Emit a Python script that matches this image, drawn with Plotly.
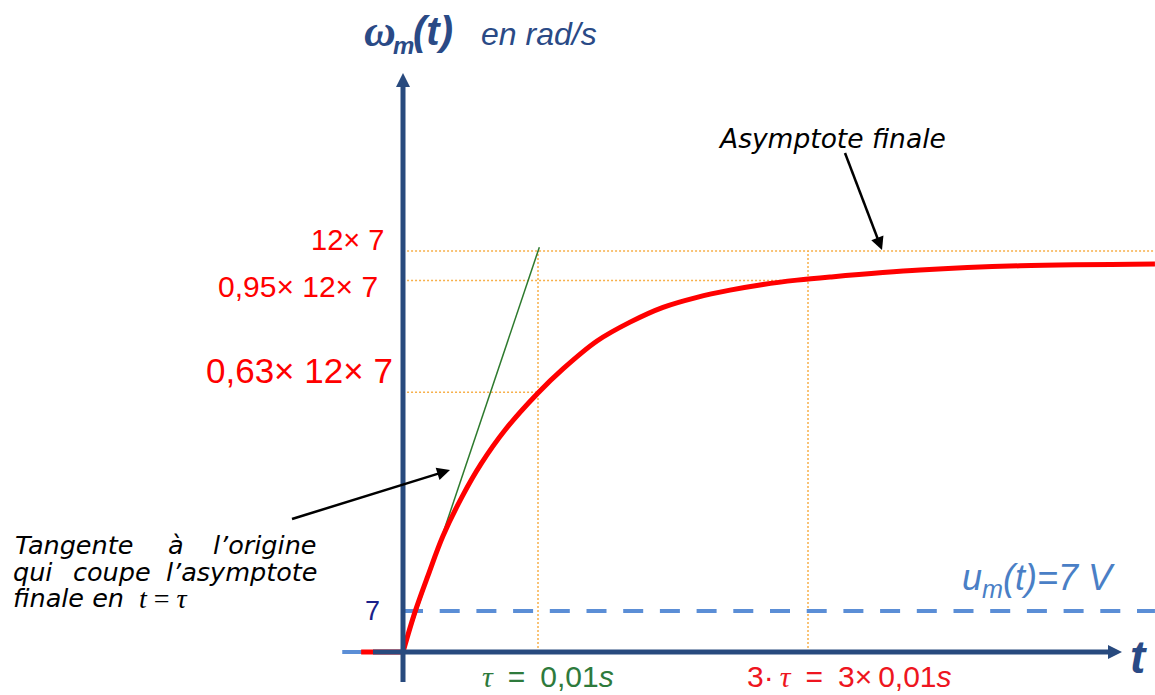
import math
import plotly.graph_objects as go

# ---------------- data ----------------
tau = 0.01                       # s
three_tau = 0.03                 # s
t_end = 0.0557                   # right edge of the drawing (s)

# step response omega_m(t) (rad/s)
t_curve = [0.0, 0.00089, 0.00185, 0.00296, 0.00437, 0.00578, 0.00756, 0.0100, 0.01185,
           0.01437, 0.01682, 0.01926, 0.02178, 0.02422, 0.02667, 0.02919, 0.03163,
           0.03830, 0.04570, 0.05570]
w_curve = [0.0, 8.4, 16.0, 24.3, 32.5, 39.4, 46.5, 54.25, 59.3,
           65.15, 69.1, 72.2, 74.3, 75.8, 77.0, 77.9, 78.55,
           80.0, 80.9, 81.3]

# before the step (t < 0)
t_before_w = [-0.0031, 0.0]
w_before = [0.0, 0.0]
t_before_u = [-0.0045, 0.0]
u_before = [0.0, 0.0]

# tangent at the origin
tangent_t = [0.0, 0.0101]
tangent_w = [0.0, 84.8]

# levels as drawn
w_final = 84.0        # 12 x 7
w_95 = 77.8           # 0,95 x 12 x 7
w_63 = 54.4           # 0,63 x 12 x 7
u_level = 8.6         # u_m(t) = 7 V line
u_t = [0.0, t_end]

level_labels = ["12× 7", "0,95× 12× 7", "0,63× 12× 7"]
SERIF_TAU = "<span style='font-family:Liberation Serif'><i>τ</i></span>"
time_labels = [SERIF_TAU + "\u2002=\u20020,01<i>s</i>",
               "3·\u2009" + SERIF_TAU + "\u2002=\u20023×\u20090,01<i>s</i>"]

# ---------------- geometry helpers ----------------
W, H = 1155, 695
XPX0, XPX_PER = 403.0, 13500.0          # pixel of t=0, pixels per second
YPX0, YPX_PER = 652.0, 401.0 / 84.0     # pixel of omega=0, pixels per rad/s


def dx(px):
    return (px - XPX0) / XPX_PER


def dy(py):
    return (YPX0 - py) / YPX_PER


NAVY = "#284a7e"
RED = "#ff0000"
GREEN = "#2d7a2d"
ORANGE = "#f7b04a"
LBLUE = "#5b8ed6"

fig = go.Figure()

# guide lines (dotted orange)
guide = dict(color=ORANGE, width=1.5, dash="2px,2px")
fig.add_trace(go.Scatter(x=[0.0003, t_end], y=[w_final, w_final], mode="lines", line=guide, hoverinfo="skip"))
fig.add_trace(go.Scatter(x=[0.0003, three_tau], y=[w_95, w_95], mode="lines", line=guide, hoverinfo="skip"))
fig.add_trace(go.Scatter(x=[0.0003, tau], y=[w_63, w_63], mode="lines", line=guide, hoverinfo="skip"))
fig.add_trace(go.Scatter(x=[tau, tau], y=[0, w_final], mode="lines", line=guide, hoverinfo="skip"))
fig.add_trace(go.Scatter(x=[three_tau, three_tau], y=[0, w_final], mode="lines", line=guide, hoverinfo="skip"))

# u_m(t) dashed line
fig.add_trace(go.Scatter(x=u_t, y=[u_level, u_level], mode="lines",
                         line=dict(color=LBLUE, width=4, dash="20px,16.7px"), hoverinfo="skip"))
fig.add_trace(go.Scatter(x=t_before_u, y=u_before, mode="lines",
                         line=dict(color=LBLUE, width=4), hoverinfo="skip"))

# tangent
fig.add_trace(go.Scatter(x=tangent_t, y=tangent_w, mode="lines",
                         line=dict(color=GREEN, width=1.5), hoverinfo="skip"))

# response
fig.add_trace(go.Scatter(x=t_before_w, y=w_before, mode="lines",
                         line=dict(color=RED, width=5), hoverinfo="skip"))
fig.add_trace(go.Scatter(x=t_curve, y=w_curve, mode="lines",
                         line=dict(color=RED, width=5, shape="spline", smoothing=1.0), hoverinfo="skip"))

# axes (lines + arrow heads)
fig.add_trace(go.Scatter(x=[0, 0], y=[dy(682), dy(80)], mode="lines",
                         line=dict(color=NAVY, width=5), hoverinfo="skip"))
fig.add_trace(go.Scatter(x=[0], y=[dy(73)], mode="markers",
                         marker=dict(symbol="arrow-up", size=14, color=NAVY, line=dict(width=0)),
                         hoverinfo="skip"))
fig.add_trace(go.Scatter(x=[dx(373), dx(1115)], y=[0, 0], mode="lines",
                         line=dict(color=NAVY, width=5), hoverinfo="skip"))
fig.add_trace(go.Scatter(x=[dx(1122)], y=[0], mode="markers",
                         marker=dict(symbol="arrow-right", size=14, color=NAVY, line=dict(width=0)),
                         hoverinfo="skip"))

# pointer arrows (black): line + rotated arrow head
for (x0, y0, x1, y1) in [(845, 153, 882, 250), (292, 519, 450, 470)]:
    ddx, ddy = x1 - x0, y1 - y0
    L = math.hypot(ddx, ddy)
    ux, uy = ddx / L, ddy / L
    ang = math.degrees(math.atan2(ddx, -ddy))
    fig.add_trace(go.Scatter(x=[dx(x0), dx(x1 - 8 * ux)], y=[dy(y0), dy(y1 - 8 * uy)], mode="lines",
                             line=dict(color="black", width=2.5), hoverinfo="skip"))
    fig.add_trace(go.Scatter(x=[dx(x1)], y=[dy(y1)], mode="markers",
                             marker=dict(symbol="arrow-up", size=13, angle=ang, color="black",
                                         line=dict(width=0)),
                             hoverinfo="skip"))

annotations = []


def txt(text, px, py, size, color, family="Liberation Sans", xanchor="left", yanchor="middle"):
    annotations.append(dict(text=text, x=px / W, y=1 - py / H, xref="paper", yref="paper",
                            xanchor=xanchor, yanchor=yanchor, showarrow=False,
                            font=dict(size=size, color=color, family=family)))


# title of the y axis
TITLE = "#2a4a86"
txt("<b><i>ω</i></b>", 362, 32, 44, TITLE, family="Liberation Serif")
txt("<b><i>m</i></b>", 391, 45, 24, TITLE)
txt("<b><i>(t)</i></b>", 411, 31, 40, TITLE)
txt("<i>en rad/s</i>", 479, 34, 32, TITLE)

# y level labels
txt(level_labels[0], 386, 240, 29, RED, xanchor="right")
txt(level_labels[1], 380, 286, 30, RED, xanchor="right")
txt(level_labels[2], 395, 370, 35, RED, xanchor="right")
txt("7", 382, 611, 27, "#1b1f8a", xanchor="right")

# time labels
txt(time_labels[0], 480, 695, 30, "#2e7a3c", yanchor="bottom")
txt(time_labels[1], 745, 695, 30, "#ee1520", yanchor="bottom")

# x axis name
txt("<b><i>t</i></b>", 1128, 657, 46, TITLE)

# u_m label
txt("<i>u<sub>m</sub>(t)=7 V</i>", 960, 580, 36, "#4a7fc6")

# comments
COMMENT = "DejaVu Sans"
txt("<i>Asymptote finale</i>", 716, 138, 26.5, "black", family=COMMENT)
for word, px, py in [("Tangente", 13, 545), ("à", 166, 545), ("l’origine", 211, 545),
                     ("qui", 11, 572), ("coupe", 71, 572), ("l’asymptote", 164, 572),
                     ("finale en", 11, 598)]:
    txt("<i>" + word + "</i>", px, py, 25.5, "black", family=COMMENT)
txt("<i>t</i> = <i>τ</i>", 137, 598, 28, "black", family="Liberation Serif")

fig.update_layout(
    width=W, height=H, margin=dict(l=0, r=0, t=0, b=0),
    paper_bgcolor="white", plot_bgcolor="white", showlegend=False,
    xaxis=dict(range=[dx(0), dx(W)], visible=False),
    yaxis=dict(range=[dy(H), dy(0)], visible=False),
    annotations=annotations,
)

fig.write_html("out.html")
